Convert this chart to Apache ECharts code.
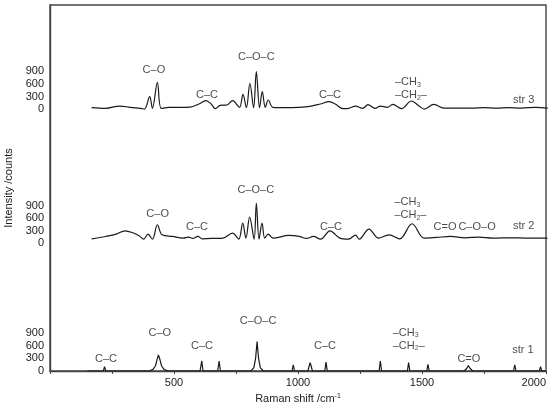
<!DOCTYPE html>
<html lang="en">
<head>
    <meta charset="UTF-8">
    <title>Raman spectra</title>
    <script type="text/javascript" src="https://cdn.jsdelivr.net/npm/echarts@6/dist/echarts.min.js"></script>
    <style>
        html, body { margin: 0; padding: 0; background: #fff; }
        #main { width: 550px; height: 407px; }
    </style>
</head>
<body>
<div id="main"></div>
<script>
    // x tick labels and y tick labels (repeated for each spectrum)
    const xTicks = [500, 1000, 1500, 2000];
    const yTickLabels = ['0', '300', '600', '900'];
    // vertical offsets (counts) of the three spectra
    const offsets = [0, 3060, 6270];

    // str 1 : sharp lines
    const str1X = [150, 215, 220, 225, 400, 415, 425, 432, 437, 443, 450, 460, 475, 605, 612, 617, 676, 682, 687,
        810, 822, 829, 835, 841, 848, 860, 976, 981, 986, 1040, 1045, 1049, 1053, 1058, 1108, 1113, 1118,
        1327, 1332, 1337, 1441, 1446, 1451, 1519, 1524, 1529, 1630, 1634, 1638, 1670, 1680, 1687, 1694, 1705,
        1869, 1874, 1879, 1973, 1978, 1983, 2000];
    const str1Y = [0, 0, 104, 0, 0, 40, 120, 280, 384, 280, 120, 40, 0, 0, 240, 0, 0, 240, 0,
        0, 80, 300, 704, 300, 80, 0, 0, 144, 0, 0, 120, 200, 120, 0, 0, 216, 0,
        0, 240, 0, 0, 200, 0, 0, 160, 0, 0, 40, 0, 0, 60, 128, 60, 0,
        0, 144, 0, 0, 104, 0, 0];

    // str 2
    const str2X = [168, 224, 267, 302, 331, 359, 378, 395, 413, 433, 452, 494, 537, 558, 576, 596, 615, 650, 693,
        736, 761, 777, 790, 805, 823, 832, 843, 855, 866, 880, 899, 963, 1005, 1034, 1062, 1091, 1129, 1169,
        1204, 1232, 1247, 1286, 1325, 1367, 1410, 1460, 1509, 1559, 1616, 1673, 1730, 1786, 1857, 1928, 2006];
    const str2Y = [104, 160, 216, 296, 256, 176, 96, 216, 96, 440, 200, 160, 120, 144, 112, 160, 104, 112, 112,
        240, 96, 480, 120, 624, 96, 960, 96, 480, 120, 216, 120, 184, 160, 112, 160, 96, 296, 120,
        96, 192, 96, 336, 120, 200, 104, 464, 120, 136, 160, 128, 144, 120, 128, 120, 120];

    // str 3
    const str3X = [168, 224, 281, 324, 366, 381, 402, 413, 433, 449, 480, 520, 565, 600, 629, 650, 667, 686, 714,
        736, 764, 778, 792, 806, 821, 832, 845, 856, 868, 880, 899, 950, 1000, 1048, 1090, 1126, 1150, 1183,
        1204, 1232, 1261, 1282, 1311, 1332, 1360, 1382, 1417, 1457, 1490, 1509, 1548, 1588, 1650, 1700, 1750,
        1800, 1850, 1900, 1960, 2007];
    const str3Y = [32, 16, 72, 40, 16, 0, 296, 16, 640, 16, 40, 40, 48, 120, 200, 120, 8, 88, 96,
        200, 40, 352, 32, 616, 32, 896, 32, 416, 40, 216, 40, 32, 40, 64, 120, 176, 120, 8,
        16, 72, 16, 104, 16, 72, 40, 112, 8, 192, 64, 0, 112, 24, 24, 24, 32,
        24, 32, 24, 40, 24];

    // band assignments: [wavenumber, counts above own baseline, text, align]
    const ch = '–CH{sub|3}\n–CH{sub|2}–';
    const str1Labels = [[226, 287, 'C–C'], [443, 909, 'C–O'], [613, 598, 'C–C'], [839, 1196, 'C–O–C'],
        [1109, 598, 'C–C'], [1382, 753, ch, 'left'], [1689, 287, 'C=O'], [1907, 502, 'str 1']];
    const str2Labels = [[434, 696, 'C–O'], [593, 392, 'C–C'], [830, 1270, 'C–O–C'], [1133, 392, 'C–C'],
        [1389, 819, ch, 'left'], [1593, 392, 'C=O'], [1722, 392, 'C–O–O'], [1910, 409, 'str 2']];
    const str3Labels = [[419, 931, 'C–O'], [633, 333, 'C–C'], [832, 1235, 'C–O–C'], [1129, 333, 'C–C'],
        [1391, 485, ch, 'left'], [1910, 213, 'str 3']];

    const font = 'Liberation Sans, Arial, sans-serif';
    const ink = '#1a1a1a';

    function lineSeries(xs, ys, off, smooth) {
        return {
            type: 'line',
            showSymbol: false,
            smooth: smooth,
            lineStyle: {color: ink, width: 1.2},
            data: xs.map((x, i) => [x, ys[i] + off]),
            z: 3
        };
    }

    function labelSeries(list, off) {
        return {
            type: 'scatter',
            symbolSize: 0,
            itemStyle: {color: 'rgba(0,0,0,0)'},
            silent: true,
            z: 5,
            data: list.map(a => ({
                value: [a[0], a[1] + off],
                label: {
                    show: true,
                    position: 'inside',
                    align: a[3] || 'center',
                    formatter: a[2],
                    color: '#1a1a1a',
                    fontSize: 11,
                    fontFamily: font,
                    lineHeight: 13,
                    rich: {
                        sub: {fontSize: 7, fontFamily: font, color: '#1a1a1a', padding: [5, 0, 0, 0]}
                    }
                }
            }))
        };
    }

    function yLabel(v) {
        for (const off of offsets) {
            for (const t of yTickLabels) {
                if (v === off + Number(t)) return t;
            }
        }
        return '';
    }

    const chart = echarts.init(document.getElementById('main'));
    chart.setOption({
        animation: false,
        grid: {
            left: 50, right: 4, top: 5, bottom: 36,
            outerBoundsMode: 'none', containLabel: false,
            show: true, borderColor: '#444', borderWidth: 1.4
        },
        xAxis: {
            type: 'value',
            min: 0,
            max: 2000,
            interval: 250,
            name: 'Raman shift /cm{sup|-1}',
            nameLocation: 'middle',
            nameGap: 15,
            nameTextStyle: {
                fontSize: 11, fontFamily: font, color: '#222',
                rich: {sup: {fontSize: 7, fontFamily: font, color: '#222', padding: [0, 0, 6, 0]}}
            },
            axisLine: {lineStyle: {color: '#444', width: 1.4}},
            axisTick: {length: 3, lineStyle: {color: '#444'}},
            axisLabel: {
                fontSize: 11, fontFamily: font, color: '#222', margin: 6,
                alignMaxLabel: 'right',
                formatter: v => xTicks.includes(v) ? String(v) : ''
            },
            splitLine: {show: false}
        },
        yAxis: {
            type: 'value',
            min: 0,
            max: 8760,
            interval: 30,
            name: 'Intensity /counts',
            nameLocation: 'middle',
            nameGap: 36,
            nameTextStyle: {fontSize: 11, fontFamily: font, color: '#222'},
            axisLine: {show: true, lineStyle: {color: '#444', width: 1.4}},
            axisTick: {show: false},
            axisLabel: {fontSize: 11, fontFamily: font, color: '#222', margin: 6, formatter: yLabel},
            splitLine: {show: false}
        },
        series: [
            lineSeries(str1X, str1Y, offsets[0], false),
            lineSeries(str2X, str2Y, offsets[1], 0.35),
            lineSeries(str3X, str3Y, offsets[2], 0.35),
            labelSeries(str1Labels, offsets[0]),
            labelSeries(str2Labels, offsets[1]),
            labelSeries(str3Labels, offsets[2])
        ]
    });
</script>
</body>
</html>
